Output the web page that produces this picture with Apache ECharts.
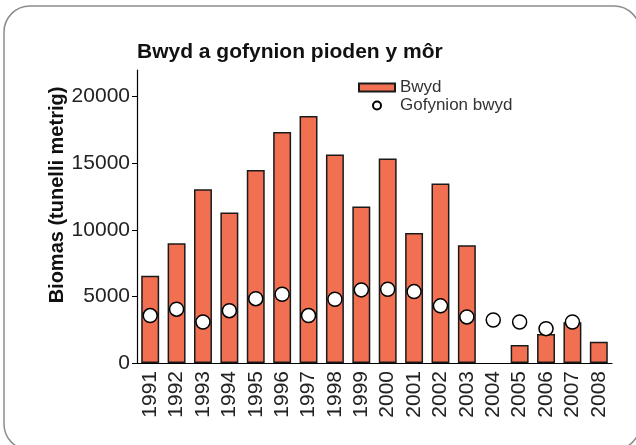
<!DOCTYPE html>
<html>
<head>
<meta charset="utf-8">
<script src="https://cdn.jsdelivr.net/npm/echarts@6/dist/echarts.min.js"></script>
<style>
html,body{margin:0;padding:0;background:#fff;}
#chart{width:636px;height:445px;}
</style>
</head>
<body>
<div id="chart"></div>
<script>
const titleText = 'Bwyd a gofynion pioden y môr';
const yAxisTitle = 'Biomas (tunelli metrig)';
const years = ['1991','1992','1993','1994','1995','1996','1997','1998','1999','2000','2001','2002','2003','2004','2005','2006','2007','2008'];
const foodName = 'Bwyd';
const demandName = 'Gofynion bwyd';
const food = [6550, 9000, 13050, 11300, 14500, 17350, 18550, 15650, 11750, 15350, 9770, 13480, 8850, null, 1350, 2180, 3060, 1600];
const demand = [3560, 4040, 3080, 3930, 4830, 5160, 3560, 4790, 5490, 5540, 5360, 4290, 3460, 3230, 3080, 2580, 3080, null];
const yTicks = [0, 5000, 10000, 15000, 20000];
const yMax = 22000;

const FONT = '"Liberation Sans", Arial, sans-serif';
const chart = echarts.init(document.getElementById('chart'), null, {renderer: 'canvas'});
chart.setOption({
  backgroundColor: '#ffffff',
  animation: false,
  textStyle: {fontFamily: FONT},
  title: {
    text: titleText,
    left: 132,
    top: 37,
    textStyle: {fontFamily: FONT, fontSize: 21, fontWeight: 'bold', color: '#111'}
  },
  graphic: [
    {
      type: 'rect',
      shape: {x: 4, y: 6, width: 636, height: 444, r: 26},
      style: {fill: 'none', stroke: '#8c8c8c', lineWidth: 1.5},
      silent: true
    },
    {
      type: 'text',
      x: 57,
      y: 195,
      rotation: Math.PI / 2,
      style: {
        text: yAxisTitle,
        font: 'bold 20px ' + FONT,
        fill: '#111',
        align: 'center',
        verticalAlign: 'middle'
      },
      silent: true
    }
  ],
  legend: {
    orient: 'vertical',
    left: 353,
    top: 74,
    itemWidth: 36,
    itemHeight: 8,
    itemGap: 1,
    textStyle: {fontFamily: FONT, fontSize: 17, color: '#333'},
    data: [
      {name: foodName, icon: 'rect'},
      {name: demandName, icon: 'circle'}
    ]
  },
  grid: {left: 137, right: 24, top: 70, bottom: 82, containLabel: false},
  xAxis: {
    type: 'category',
    data: years,
    axisLine: {lineStyle: {color: '#000', width: 1.2}},
    axisTick: {show: false},
    axisLabel: {rotate: 90, margin: 8, fontSize: 21, color: '#222', fontFamily: FONT, interval: 0}
  },
  yAxis: {
    type: 'value',
    min: 0,
    max: yMax,
    splitLine: {show: false},
    axisLine: {show: true, lineStyle: {color: '#000', width: 1.2}},
    axisTick: {show: true, length: 5, customValues: yTicks, lineStyle: {color: '#000'}},
    axisLabel: {customValues: yTicks, margin: 7, fontSize: 21, color: '#222', fontFamily: FONT,
      formatter: function (v) { return String(v); }}
  },
  series: [
    {
      name: foodName,
      type: 'bar',
      data: food,
      barWidth: '68%',
      itemStyle: {color: '#f27052', borderColor: '#1a1a1a', borderWidth: 1.5}
    },
    {
      name: demandName,
      type: 'scatter',
      data: demand,
      symbol: 'circle',
      symbolSize: 14,
      itemStyle: {color: '#ffffff', borderColor: '#000', borderWidth: 1.5, opacity: 1},
      z: 3
    }
  ]
});
</script>
</body>
</html>
